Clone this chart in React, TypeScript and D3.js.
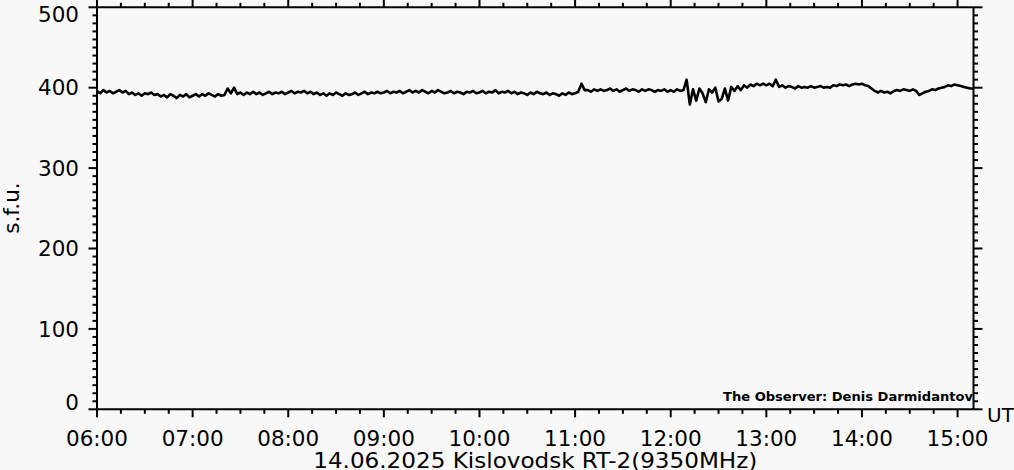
import React from 'react';
import * as d3 from 'd3';

// Flux (s.f.u.) sampled every 2 minutes, one array per hour (UT)
const flux06 = [396, 393, 397, 394, 396, 393, 395, 397, 394, 396, 392, 394, 391, 393, 390, 393, 392, 394, 391, 392, 389, 391, 388, 392, 390, 387, 391, 389, 392, 388];
const flux07 = [390, 392, 389, 392, 390, 393, 391, 389, 392, 390, 391, 399, 393, 400, 392, 394, 391, 394, 392, 395, 392, 394, 391, 393, 395, 392, 394, 393, 395, 392];
const flux08 = [394, 396, 393, 395, 394, 396, 393, 395, 392, 394, 391, 393, 390, 393, 391, 394, 392, 390, 393, 391, 392, 394, 391, 393, 395, 392, 394, 393, 395, 393];
const flux09 = [394, 396, 393, 395, 394, 396, 393, 395, 397, 394, 396, 394, 397, 395, 393, 396, 394, 397, 395, 393, 394, 396, 393, 395, 394, 392, 395, 394, 396, 393];
const flux10 = [394, 396, 393, 395, 394, 397, 393, 395, 394, 396, 393, 395, 392, 394, 393, 391, 394, 392, 395, 393, 392, 394, 391, 393, 392, 390, 393, 391, 394, 392];
const flux11 = [393, 395, 405, 397, 397, 395, 398, 396, 398, 396, 397, 399, 396, 398, 395, 397, 399, 396, 398, 397, 395, 398, 396, 398, 397, 395, 397, 396, 398, 395];
const flux12 = [397, 395, 398, 396, 397, 410, 379, 398, 384, 399, 393, 382, 398, 394, 400, 383, 386, 399, 384, 401, 396, 402, 397, 403, 400, 404, 402, 405, 403, 405];
const flux13 = [403, 405, 402, 410, 401, 403, 400, 402, 401, 399, 402, 400, 401, 400, 402, 400, 401, 402, 400, 401, 400, 403, 402, 404, 403, 404, 402, 404, 405, 404];
const flux14 = [405, 403, 402, 399, 396, 394, 396, 394, 395, 393, 396, 397, 396, 398, 397, 396, 398, 396, 391, 393, 395, 396, 398, 397, 399, 400, 401, 403, 402, 404];
const flux15 = [403, 402, 401, 400, 399, 399];

const hourStarts = [6, 7, 8, 9, 10, 11, 12, 13, 14, 15];
const hourSeries = [flux06, flux07, flux08, flux09, flux10, flux11, flux12, flux13, flux14, flux15];

const xTickLabels = ['06:00', '07:00', '08:00', '09:00', '10:00', '11:00', '12:00', '13:00', '14:00', '15:00'];
const yTickValues = [0, 100, 200, 300, 400, 500];

const title = '14.06.2025 Kislovodsk RT-2(9350MHz)';
const observer = 'The Observer: Denis Darmidantov';
const yLabel = 's.f.u.';
const xUnit = 'UT';

export default function App() {
  const W = 1014;
  const H = 470;
  const left = 97;
  const right = 973.5;
  const top = 7.3;
  const bottom = 409.3;
  const x = d3.scaleLinear().domain([360, 910]).range([left, right]);
  const y = d3.scaleLinear().domain([0, 500]).range([bottom, top]);

  const pts: [number, number][] = [];
  hourSeries.forEach((vals, h) => {
    vals.forEach((v, i) => pts.push([hourStarts[h] * 60 + 2 * i, v]));
  });
  const line = d3.line<[number, number]>().x(d => x(d[0])).y(d => y(d[1]));

  const majorX = xTickLabels.map((_, i) => 360 + 60 * i);
  const minorX = d3.range(360, 911, 15).filter(m => m % 60 !== 0);
  const minorY = d3.range(0, 501, 10).filter(v => v % 100 !== 0);

  const font = 'DejaVu Sans, Verdana, sans-serif';
  const col = '#000';

  const yLabelBaseline = (v: number) => (v === 500 ? 21.7 : v === 0 ? 410 : y(v) + 7.6);

  return (
    <svg width={W} height={H} style={{ position: 'absolute', left: 0, top: 0 }}>
      <rect x={0} y={0} width={W} height={H} fill="#f8f8f8" />
      {/* frame */}
      <g stroke={col} strokeWidth={2} fill="none">
        <line x1={left} y1={top} x2={right} y2={top} />
        <line x1={left} y1={bottom} x2={right} y2={bottom} />
        <line x1={left} y1={top} x2={left} y2={bottom} />
        <line x1={right} y1={top} x2={right} y2={bottom} />
        {majorX.map(m => (
          <g key={'mx' + m}>
            <line x1={x(m)} x2={x(m)} y1={bottom} y2={bottom + 8} />
            <line x1={x(m)} x2={x(m)} y1={top} y2={top - 8} />
          </g>
        ))}
        {minorX.map(m => (
          <g key={'nx' + m}>
            <line x1={x(m)} x2={x(m)} y1={bottom} y2={bottom + 4.5} />
            <line x1={x(m)} x2={x(m)} y1={top} y2={top - 4.5} />
          </g>
        ))}
        {yTickValues.map(v => (
          <g key={'my' + v}>
            <line x1={left} x2={left - 8.5} y1={y(v)} y2={y(v)} />
            <line x1={right} x2={right + 9} y1={y(v)} y2={y(v)} />
          </g>
        ))}
        {minorY.map(v => (
          <g key={'ny' + v}>
            <line x1={left} x2={left - 4.5} y1={y(v)} y2={y(v)} />
            <line x1={right} x2={right + 4.5} y1={y(v)} y2={y(v)} />
          </g>
        ))}
      </g>
      {/* data */}
      <path d={line(pts) || ''} fill="none" stroke={col} strokeWidth={2.6} strokeLinejoin="round" />
      {/* labels */}
      <g fontFamily={font} fontSize={21.5} fill={col}>
        {yTickValues.map(v => (
          <text key={'ly' + v} x={79} y={yLabelBaseline(v)} textAnchor="end">{v}</text>
        ))}
        {xTickLabels.map((t, i) => (
          <text key={'lx' + t} x={x(majorX[i])} y={445.7} textAnchor="middle">{t}</text>
        ))}
        <text x={(left + right) / 2} y={468} textAnchor="middle" textLength={444} lengthAdjust="spacingAndGlyphs">{title}</text>
        <text transform="translate(18.5,208) rotate(-90)" textAnchor="middle">{yLabel}</text>
        <text x={987} y={422} fontSize={20}>{xUnit}</text>
      </g>
      <text x={723} y={401} fontFamily={font} fontSize={12} fontWeight={600} fill={col} textLength={250} lengthAdjust="spacingAndGlyphs">{observer}</text>
    </svg>
  );
}
